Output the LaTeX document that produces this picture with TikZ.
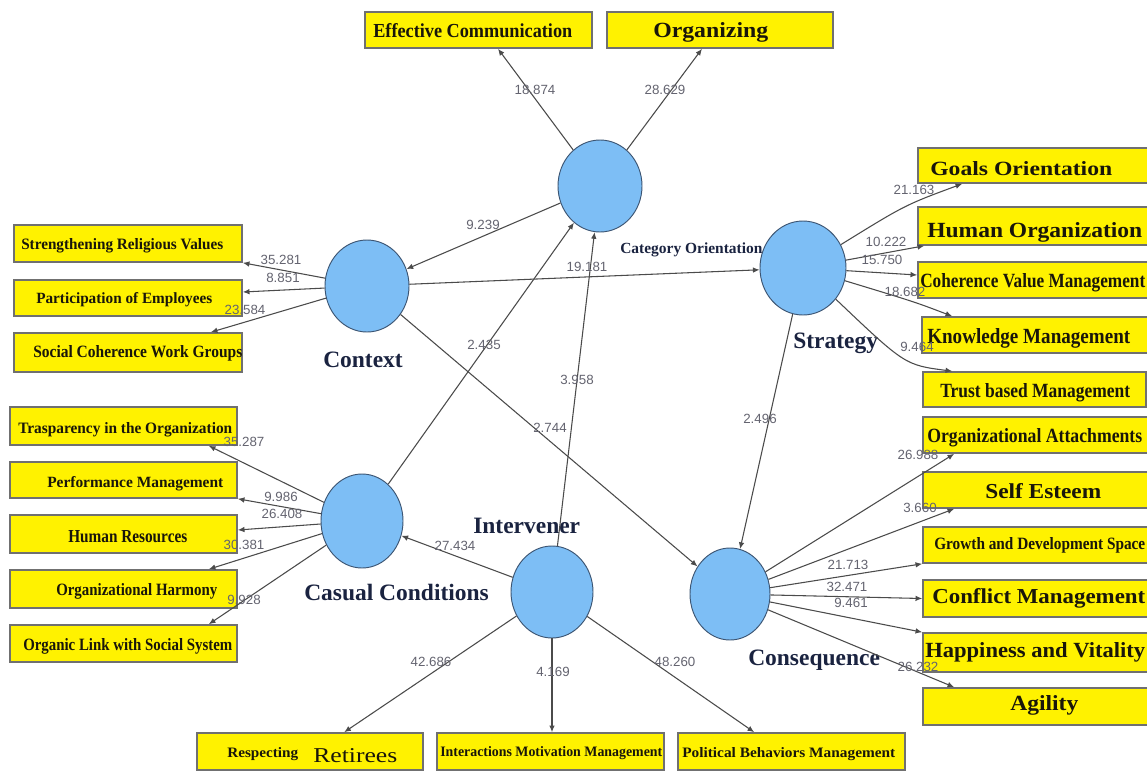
\documentclass[tikz,border=0pt]{standalone}
\usepackage{fontspec}
\setmainfont{Liberation Serif}
\newfontfamily\numfont{Liberation Sans}
\usepackage{graphicx}
\usetikzlibrary{shapes.geometric,arrows.meta,calc}
\newlength\pxu \setlength\pxu{0.75pt}
\newcommand\bt[3]{\resizebox{#1\pxu}{#2\pxu}{\bfseries #3}}
\newcommand\ybx[5]{\node[ybox, minimum width=#4*0.75pt, minimum height=#5*0.75pt] (#1) at (#2,#3) {};}
\definecolor{boxyellow}{RGB}{255,242,0}
\definecolor{boxgray}{RGB}{112,112,112}
\definecolor{circblue}{RGB}{125,190,245}
\definecolor{circline}{RGB}{60,85,115}
\definecolor{linegray}{RGB}{75,75,75}
\definecolor{numgray}{RGB}{100,100,112}
\definecolor{navy}{RGB}{26,35,64}
\definecolor{txtdark}{RGB}{25,22,10}
\begin{document}
\begin{tikzpicture}[x=0.75pt,y=-0.75pt,
  ybox/.style={draw=boxgray, fill=boxyellow, line width=1.2pt, inner sep=0pt, rectangle},
  lv/.style={ellipse, draw=circline, fill=circblue, line width=0.7pt, inner sep=0pt},
  con/.style={draw=linegray, line width=0.8pt, -{Latex[length=5pt,width=4.2pt]}},
  num/.style={font=\numfont\fontsize{10}{12}\selectfont, text=numgray, inner sep=0pt},
  txt/.style={anchor=base west, inner sep=0pt, text=txtdark},
  lvl/.style={anchor=base west, inner sep=0pt, text=navy, font=\bfseries\fontsize{17.6}{20}\selectfont}]
\fill[white] (0,0) rectangle (1147,772);
\useasboundingbox (0,0) rectangle (1147,772);

% latent variables
\node[lv, minimum width=84*0.75pt, minimum height=92*0.75pt] (cat) at (600,186) {};
\node[lv, minimum width=84*0.75pt, minimum height=92*0.75pt] (ctx) at (367,286) {};
\node[lv, minimum width=86*0.75pt, minimum height=94*0.75pt] (str) at (803,268) {};
\node[lv, minimum width=82*0.75pt, minimum height=94*0.75pt] (cas) at (362,521) {};
\node[lv, minimum width=82*0.75pt, minimum height=92*0.75pt] (int) at (552,592) {};
\node[lv, minimum width=80*0.75pt, minimum height=92*0.75pt] (cns) at (730,594) {};

% latent labels
\node[anchor=base west, inner sep=0pt, text=navy, font=\bfseries\fontsize{11.6}{13}\selectfont] (lcat) at (620,253) {Category Orientation};
\node[lvl] (lctx) at (323,367) {Context};
\node[lvl] (lstr) at (793,348) {Strategy};
\node[lvl] (lcas) at (304,600) {Casual Conditions};
\node[lvl] (lint) at (473,533) {Intervener};
\node[lvl] (lcns) at (748,665) {Consequence};

% boxes
\ybx{ec}{478.5}{30}{227}{36}
\ybx{org}{720}{30}{226}{36}
\ybx{srv}{128}{243.5}{228}{37}
\ybx{poe}{128}{298}{228}{36}
\ybx{scw}{128}{352.5}{228}{39}
\ybx{tio}{123.5}{426}{227}{38}
\ybx{pm}{123.5}{480}{227}{36}
\ybx{hr}{123.5}{534}{227}{38}
\ybx{oh}{123.5}{589}{227}{38}
\ybx{ol}{123.5}{643.5}{227}{37}
\ybx{go}{1034}{165.5}{232}{35}
\ybx{ho}{1034}{226}{232}{38}
\ybx{cvm}{1034}{280}{232}{36}
\ybx{km}{1036}{335}{228}{36}
\ybx{tbm}{1034.5}{389.5}{223}{35}
\ybx{oa}{1036.5}{435}{227}{36}
\ybx{se}{1036.5}{490}{227}{36}
\ybx{gds}{1036.5}{545}{227}{36}
\ybx{cm}{1036.5}{598.5}{227}{37}
\ybx{hv}{1036.5}{652.5}{227}{39}
\ybx{ag}{1036.5}{706.5}{227}{37}
\ybx{rr}{310}{751.5}{226}{37}
\ybx{imm}{550.5}{751.5}{227}{37}
\ybx{pbm}{791.5}{751.5}{227}{37}

% box texts
\node[txt] (tec) at (373,37) {\bt{199}{14}{Effective Communication}};
\node[txt] (torg) at (653,37) {\bt{115}{15}{Organizing}};
\node[txt] (tsrv) at (21,249) {\bt{202}{11}{Strengthening Religious Values}};
\node[txt] (tpoe) at (36,303) {\bt{176}{11}{Participation of Employees}};
\node[txt] (tscw) at (33,357) {\bt{209}{12}{Social Coherence Work Groups}};
\node[txt] (ttio) at (18,433) {\bt{214}{11}{Trasparency in the Organization}};
\node[txt] (tpm) at (47,487) {\bt{176}{11}{Performance Management}};
\node[txt] (thr) at (68,542) {\bt{119}{12}{Human Resources}};
\node[txt] (toh) at (56,595) {\bt{161}{12}{Organizational Harmony}};
\node[txt] (tol) at (23,650) {\bt{209}{12}{Organic Link with Social System}};
\node[txt] (tgo) at (930,175) {\bt{182}{14}{Goals Orientation}};
\node[txt] (tho) at (927,237) {\bt{215}{15}{Human Organization}};
\node[txt] (tcvm) at (920,287) {\bt{225}{14}{Coherence Value Management}};
\node[txt] (tkm) at (927,343) {\bt{203}{15}{Knowledge Management}};
\node[txt] (ttbm) at (940,397) {\bt{190}{14}{Trust based Management}};
\node[txt] (toa) at (927,442) {\bt{215}{14}{Organizational Attachments}};
\node[txt] (tse) at (985,498) {\bt{116}{15}{Self Esteem}};
\node[txt] (tgds) at (934,549) {\bt{211}{12}{Growth and Development Space}};
\node[txt] (tcm) at (932,603) {\bt{213}{15}{Conflict Management}};
\node[txt] (thv) at (925,657) {\bt{220}{15}{Happiness and Vitality}};
\node[txt] (tag) at (1010,710) {\bt{68}{15}{Agility}};
\node[txt] (trr1) at (227,757) {\bt{71}{10}{Respecting}};
\node[txt] (trr2) at (313,762) {\resizebox{84\pxu}{14\pxu}{Retirees}};
\node[txt] (timm) at (440,756) {\bt{222}{10}{Interactions Motivation Management}};
\node[txt] (tpbm) at (682,757) {\bt{213}{10}{Political Behaviors Management}};

% structural connectors
\draw[con] (cat) -- ($(ec.south)+(19.5,0)$);
\draw[con] (cat) -- ($(org.south)+(-18,0)$);
\draw[con] (cat) -- (ctx);
\draw[con] (ctx) -- (str);
\draw[con] (cas) -- (cat);
\draw[con] (int) -- (cat);
\draw[con] (ctx) -- (cns);
\draw[con] (str) -- (cns);
\draw[con] (int) -- (cas);

% context indicators
\draw[con] (ctx) -- (srv.south east);
\draw[con] (ctx) -- ($(poe.east)+(0,-6)$);
\draw[con] (ctx) -- ($(scw.north east)+(-32,0)$);

% casual indicators
\draw[con] (cas) -- ($(tio.south east)+(-29,0)$);
\draw[con] (cas) -- (pm.south east);
\draw[con] (cas) -- ($(hr.east)+(0,-4)$);
\draw[con] (cas) -- ($(oh.north east)+(-29,0)$);
\draw[con] (cas) -- ($(ol.north east)+(-29,0)$);

% strategy indicators
\draw[con] (str) .. controls (905,205) .. ($(go.south west)+(45,0)$);
\draw[con] (str) -- ($(ho.south west)+(7,0)$);
\draw[con] (str) -- ($(cvm.west)+(0,-5)$);
\draw[con] (str) .. controls (915,302) .. ($(km.north west)+(31,0)$);
\draw[con] (str) .. controls (905,365) .. ($(tbm.north west)+(30,0)$);

% consequence indicators
\draw[con] (cns) -- ($(oa.south west)+(32,0)$);
\draw[con] (cns) -- ($(se.south west)+(32,0)$);
\draw[con] (cns) -- (gds.south west);
\draw[con] (cns) -- (cm.west);
\draw[con] (cns) -- (hv.north west);
\draw[con] (cns) -- ($(ag.north west)+(32,0)$);

% intervener indicators
\draw[con] (int) -- ($(rr.north west)+(148,0)$);
\draw[con] (int) -- (int |- imm.north);
\draw[con] (int) -- ($(pbm.north west)+(77,0)$);

% numbers
\node[num] (n1) at (535,90) {18.874};
\node[num] (n2) at (665,90) {28.629};
\node[num] (n3) at (483,225) {9.239};
\node[num] (n4) at (587,267) {19.181};
\node[num] (n5) at (484,345) {2.435};
\node[num] (n6) at (577,380) {3.958};
\node[num] (n7) at (550,428) {2.744};
\node[num] (n8) at (760,419) {2.496};
\node[num] (n9) at (455,546) {27.434};
\node[num] (n10) at (281,260) {35.281};
\node[num] (n11) at (283,278) {8.851};
\node[num] (n12) at (245,310) {23.584};
\node[num] (n13) at (244,442) {35.287};
\node[num] (n14) at (281,497) {9.986};
\node[num] (n15) at (282,514) {26.408};
\node[num] (n16) at (244,545) {30.381};
\node[num] (n17) at (244,600) {9.928};
\node[num] (n18) at (914,190) {21.163};
\node[num] (n19) at (886,242) {10.222};
\node[num] (n20) at (882,260) {15.750};
\node[num] (n21) at (905,292) {18.682};
\node[num] (n22) at (917,347) {9.464};
\node[num] (n23) at (918,455) {26.988};
\node[num] (n24) at (920,508) {3.660};
\node[num] (n25) at (848,565) {21.713};
\node[num] (n26) at (847,587) {32.471};
\node[num] (n27) at (851,603) {9.461};
\node[num] (n28) at (918,667) {26.232};
\node[num] (n29) at (431,662) {42.686};
\node[num] (n30) at (553,672) {4.169};
\node[num] (n31) at (675,662) {48.260};
\end{tikzpicture}
\end{document}
